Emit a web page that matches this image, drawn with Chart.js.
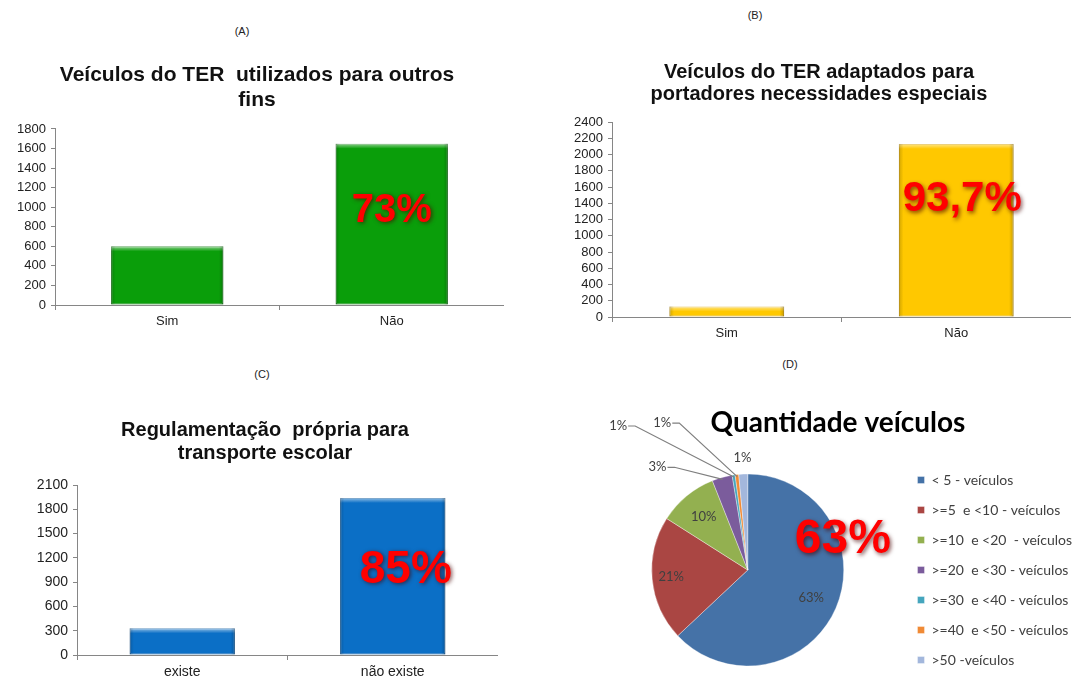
<!DOCTYPE html>
<html>
<head>
<meta charset="utf-8">
<script src="https://cdn.jsdelivr.net/npm/chart.js@4.4.1/dist/chart.umd.min.js"></script>
<style>
  html, body { margin: 0; padding: 0; background: #fff; }
  body { width: 1076px; height: 679px; position: relative; overflow: hidden; }
  .box { position: absolute; }
  .tag { position: absolute; font: 11px "Liberation Sans", Arial, sans-serif; color: #222; transform: translate(-50%, -50%); white-space: nowrap; }
</style>
</head>
<body>
<div class="tag" style="left:242px; top:31px;">(A)</div>
<div class="tag" style="left:755px; top:15px;">(B)</div>
<div class="tag" style="left:262px; top:374px;">(C)</div>
<div class="tag" style="left:790px; top:364px;">(D)</div>

<div class="box" style="left:10px; top:50px;"><canvas id="chartA" width="494" height="280"></canvas></div>
<div class="box" style="left:567px; top:45px;"><canvas id="chartB" width="504" height="297"></canvas></div>
<div class="box" style="left:32px; top:400px;"><canvas id="chartC" width="466" height="279"></canvas></div>
<div class="box" style="left:590px; top:395px;"><canvas id="chartD" width="492" height="300"></canvas></div>

<script>
// (A) veículos usados para outros fins
const categoriesA = ['Sim', 'Não'];
const valuesA = [600, 1650];
const highlightA = '73%';

// (B) veículos adaptados
const categoriesB = ['Sim', 'Não'];
const valuesB = [130, 2130];
const highlightB = '93,7%';

// (C) regulamentação própria
const categoriesC = ['existe', 'não existe'];
const valuesC = [330, 1940];
const highlightC = '85%';

// (D) quantidade de veículos
const pieLabels = ['< 5 - veículos', '>=5  e <10 - veículos', '>=10  e <20  - veículos', '>=20  e <30 - veículos',
    '>=30  e <40 - veículos', '>=40  e <50 - veículos', '>50 -veículos'];
const pieValues = [63, 21, 10, 3.4, 0.5, 0.6, 1.5];
const pieTexts = ['63%', '21%', '10%', '3%', '1%', '1%', '1%'];
const highlightD = '63%';

const AXIS_FONT = '"Liberation Sans", Arial, sans-serif';
const PIE_FONT = 'Lato, "Open Sans", sans-serif';

// texto grande vermelho sobre a barra / pizza
const bigLabelPlugin = {
    id: 'bigLabel',
    afterDatasetsDraw(chart, args, opts) {
        const el = chart.getDatasetMeta(0).data[opts.index];
        if (!el) return;
        let x, y;
        if (chart.config.type === 'pie') {
            x = el.x + el.outerRadius * opts.dx;
            y = el.y + el.outerRadius * opts.dy;
        } else {
            x = el.x + opts.dx;
            y = el.y + (el.base - el.y) * opts.frac;
        }
        const ctx = chart.ctx;
        ctx.save();
        ctx.font = 'bold ' + opts.size + 'px "Liberation Sans", Arial, sans-serif';
        ctx.textAlign = 'center';
        ctx.textBaseline = 'middle';
        ctx.shadowColor = 'rgba(70, 0, 0, 0.65)';
        ctx.shadowBlur = 4;
        ctx.shadowOffsetX = 1.5;
        ctx.shadowOffsetY = 1.5;
        ctx.fillStyle = '#ff0000';
        ctx.fillText(opts.text, x, y);
        ctx.restore();
    }
};

// efeito de bisel das barras (estilo Excel)
const bevelPlugin = {
    id: 'bevel',
    afterDatasetsDraw(chart) {
        const ctx = chart.ctx;
        chart.getDatasetMeta(0).data.forEach(bar => {
            const left = bar.x - bar.width / 2;
            const w = bar.width;
            const h = bar.base - bar.y;
            ctx.save();
            let g = ctx.createLinearGradient(0, bar.y, 0, bar.y + 5);
            g.addColorStop(0, 'rgba(255,255,255,0.55)');
            g.addColorStop(1, 'rgba(255,255,255,0)');
            ctx.fillStyle = g;
            ctx.fillRect(left, bar.y, w, Math.min(5, h));
            g = ctx.createLinearGradient(left, 0, left + w, 0);
            g.addColorStop(0, 'rgba(0,0,0,0.18)');
            g.addColorStop(0.04, 'rgba(0,0,0,0)');
            g.addColorStop(0.96, 'rgba(0,0,0,0)');
            g.addColorStop(1, 'rgba(0,0,0,0.22)');
            ctx.fillStyle = g;
            ctx.fillRect(left, bar.y, w, h);
            ctx.restore();
        });
    }
};

// rótulos de porcentagem da pizza, com linhas de chamada
const pieLabelPlugin = {
    id: 'pieLabels',
    afterDatasetsDraw(chart, args, opts) {
        const ctx = chart.ctx;
        const meta = chart.getDatasetMeta(0);
        ctx.save();
        ctx.font = '13px ' + PIE_FONT;
        ctx.textBaseline = 'middle';
        meta.data.forEach((arc, i) => {
            const place = opts.placement[i];
            const mid = (arc.startAngle + arc.endAngle) / 2;
            const R = arc.outerRadius;
            const text = pieTexts[i];
            ctx.fillStyle = '#404040';
            ctx.textAlign = 'center';
            if (place.r) {
                ctx.fillText(text, arc.x + Math.cos(mid) * R * place.r, arc.y + Math.sin(mid) * R * place.r);
            } else if (place.out) {
                ctx.fillText(text, arc.x + Math.cos(mid) * (R + place.out), arc.y + Math.sin(mid) * (R + place.out));
            } else {
                const tx = arc.x + place.dx * R;
                const ty = arc.y + place.dy * R;
                ctx.fillText(text, tx, ty);
                const w = ctx.measureText(text).width;
                const ex = arc.x + Math.cos(mid) * (R - 2);
                const ey = arc.y + Math.sin(mid) * (R - 2);
                ctx.strokeStyle = '#7f7f7f';
                ctx.lineWidth = 1.2;
                ctx.beginPath();
                ctx.moveTo(tx + w / 2 + 1, ty);
                ctx.lineTo(tx + w / 2 + 8, ty);
                ctx.lineTo(ex, ey);
                ctx.stroke();
            }
        });
        ctx.restore();
    }
};

function barChart(id, labels, values, color, border, opts) {
    new Chart(document.getElementById(id), {
        type: 'bar',
        data: {
            labels: labels,
            datasets: [{
                data: values,
                backgroundColor: color,
                borderColor: border,
                borderWidth: 1,
                borderSkipped: false,
                categoryPercentage: 0.5,
                barPercentage: 1
            }]
        },
        options: {
            responsive: false,
            animation: false,
            layout: { padding: 0 },
            plugins: {
                legend: { display: false },
                tooltip: { enabled: false },
                title: {
                    display: true,
                    text: opts.title,
                    color: '#111',
                    font: { family: AXIS_FONT, size: opts.titleSize, weight: 'bold', lineHeight: opts.titleLine },
                    padding: opts.titlePad
                },
                bigLabel: opts.big
            },
            scales: {
                x: {
                    grid: { display: true, drawOnChartArea: false, tickLength: 5, color: '#868686', offset: true },
                    border: { color: '#868686' },
                    ticks: { color: '#222', padding: 4, font: { family: AXIS_FONT, size: opts.xSize } },
                    afterFit: s => { s.height = opts.xHeight; }
                },
                y: {
                    min: 0,
                    max: opts.max,
                    ticks: { stepSize: opts.step, autoSkip: false, color: '#222', padding: 5,
                        font: { family: AXIS_FONT, size: opts.ySize },
                        callback: v => String(v) },
                    grid: { display: true, drawOnChartArea: false, tickLength: 4, color: '#868686' },
                    border: { color: '#868686' },
                    afterFit: s => { s.width = 45; }
                }
            }
        },
        plugins: [bevelPlugin, bigLabelPlugin]
    });
}

barChart('chartA', categoriesA, valuesA, '#0a9e0a', '#067406', {
    title: ['Veículos do TER  utilizados para outros', 'fins'],
    titleSize: 21, titleLine: 1.19, titlePad: { top: 12.5, bottom: 16.5 },
    max: 1800, step: 200, xSize: 13, ySize: 13, xHeight: 25,
    big: { index: 1, text: highlightA, dx: 0, frac: 0.416, size: 40 }
});

barChart('chartB', categoriesB, valuesB, '#ffc800', '#d9a300', {
    title: ['Veículos do TER adaptados para', 'portadores necessidades especiais'],
    titleSize: 20, titleLine: 1.1, titlePad: { top: 16, bottom: 17 },
    max: 2400, step: 200, xSize: 13, ySize: 13, xHeight: 25,
    big: { index: 1, text: highlightB, dx: 6, frac: 0.324, size: 42 }
});

barChart('chartC', categoriesC, valuesC, '#0b6fc6', '#07579e', {
    title: ['Regulamentação  própria para', 'transporte escolar'],
    titleSize: 20, titleLine: 1.15, titlePad: { top: 18.5, bottom: 20.5 },
    max: 2100, step: 300, xSize: 14, ySize: 14, xHeight: 24,
    big: { index: 1, text: highlightC, dx: 13, frac: 0.46, size: 46 }
});

new Chart(document.getElementById('chartD'), {
    type: 'pie',
    data: {
        labels: pieLabels,
        datasets: [{
            data: pieValues,
            backgroundColor: ['#4572a7', '#aa4643', '#93b050', '#7b5c9c', '#45a5bd', '#f08a35', '#a3b7dc'],
            borderColor: 'rgba(255,255,255,0.6)',
            borderWidth: 0.6
        }]
    },
    options: {
        responsive: false,
        animation: false,
        radius: 96,
        layout: { padding: { left: 4, right: 0, top: 0, bottom: 0 } },
        plugins: {
            tooltip: { enabled: false },
            title: {
                display: true,
                text: 'Quantidade veículos',
                color: '#000',
                font: { family: PIE_FONT, size: 28, weight: 'bold', lineHeight: 1.2 },
                padding: { top: 11, bottom: 5.4 }
            },
            legend: {
                position: 'right',
                fullSize: false,
                labels: {
                    boxWidth: 7,
                    boxHeight: 7,
                    padding: 16,
                    color: '#404040',
                    font: { family: PIE_FONT, size: 14 }
                }
            },
            pieLabels: {
                placement: [{ r: 0.72 }, { r: 0.8 }, { r: 0.72 },
                    { dx: -0.94, dy: -1.07 }, { dx: -1.35, dy: -1.5 }, { dx: -0.89, dy: -1.53 }, { out: 16 }]
            },
            bigLabel: { index: 0, text: highlightD, dx: 0.99, dy: -0.31, size: 48 }
        }
    },
    plugins: [pieLabelPlugin, bigLabelPlugin]
});
</script>
</body>
</html>
